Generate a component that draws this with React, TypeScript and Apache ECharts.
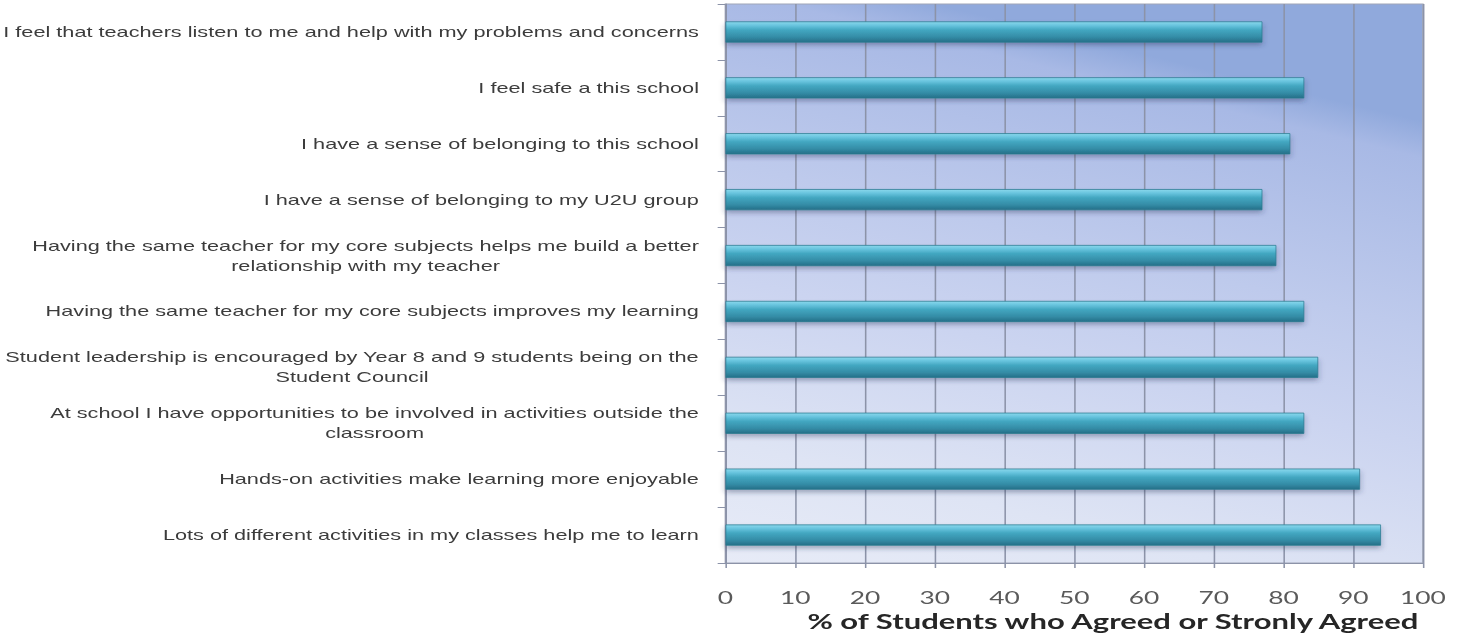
import React, { useEffect, useRef } from "react";
import * as echarts from "echarts";

// Survey statements, top to bottom
const statements: string[] = [
  "I feel that teachers listen to me and help with my problems and concerns",
  "I feel safe a this school",
  "I have a sense of belonging to this school",
  "I have a sense of belonging to my U2U group",
  "Having the same teacher for my core subjects helps me build a better\nrelationship with my teacher",
  "Having the same teacher for my core subjects improves my learning",
  "Student leadership is encouraged by Year 8 and 9 students being on the\nStudent Council",
  "At school I have opportunities to be involved in activities outside the\nclassroom",
  "Hands-on activities make learning more enjoyable",
  "Lots of different activities in my classes help me to learn",
];

// % of students who agreed or strongly agreed
const agreedPct: number[] = [77, 83, 81, 77, 79, 83, 85, 83, 91, 94];

// Value axis range
const axisMin = 0;
const axisMax = 100;
const axisStep = 10;

const axisTitle = "% of Students who Agreed or Stronly Agreed";

// The chart is laid out narrow and stretched sideways to get its wide lettering
const STRETCH = 1.55;
const PAGE_W = 1466;
const PAGE_H = 637;
const CHART_W = Math.round(PAGE_W / STRETCH);

export default function App() {
  const ref = useRef<HTMLDivElement>(null);

  useEffect(() => {
    if (!ref.current) return;
    const chart = echarts.init(ref.current, null, { renderer: "svg" });

    const plotBg = new echarts.graphic.LinearGradient(0, 1, 0.3, 0, [
      { offset: 0, color: "#e7ebf7" },
      { offset: 0.2, color: "#dee4f4" },
      { offset: 0.47, color: "#cbd4f0" },
      { offset: 0.66, color: "#becaec" },
      { offset: 0.94, color: "#a8b9e5" },
      { offset: 1, color: "#90a9dc" },
    ]);

    const barFill = new echarts.graphic.LinearGradient(0, 0, 0, 1, [
      { offset: 0, color: "#8ad8ec" },
      { offset: 0.18, color: "#68c4de" },
      { offset: 0.4, color: "#43a7c1" },
      { offset: 0.75, color: "#348ca6" },
      { offset: 1, color: "#256f88" },
    ]);

    chart.setOption({
      animation: false,
      backgroundColor: "#ffffff",
      grid: {
        left: 468,
        right: CHART_W - 918,
        top: 4,
        height: 559,
        show: true,
        backgroundColor: plotBg,
        borderColor: "#a0a6b8",
        borderWidth: 1,
        outerBoundsMode: "none",
        containLabel: false,
      },
      xAxis: {
        type: "value",
        min: axisMin,
        max: axisMax,
        interval: axisStep,
        name: axisTitle,
        nameLocation: "middle",
        nameGap: 48,
        nameTextStyle: {
          fontFamily: "Lato",
          fontWeight: "bold",
          fontSize: 20,
          color: "#262626",
          padding: [0, 0, 0, 50],
        },
        axisLine: { show: true, lineStyle: { color: "#8c93a8", width: 1 } },
        axisTick: { show: true, length: 5, lineStyle: { color: "#8c93a8" } },
        axisLabel: {
          margin: 26,
          fontFamily: "Lato",
          fontSize: 17,
          color: "#5a5a5a",
        },
        splitLine: { show: true, lineStyle: { color: "#8c93a8", width: 1 } },
      },
      yAxis: {
        type: "category",
        inverse: true,
        data: statements,
        axisLine: { show: true, lineStyle: { color: "#8c93a8", width: 1 } },
        axisTick: { show: true, length: 5, lineStyle: { color: "#8c93a8" } },
        axisLabel: {
          margin: 17,
          formatter: (v: string) =>
            v
              .split("\n")
              .map((line) => `{c|${line}}`)
              .join("\n"),
          rich: {
            c: {
              align: "center",
              fontFamily: "Liberation Sans",
              fontSize: 14,
              lineHeight: 20,
              color: "#3c3c3c",
            },
          },
        },
        splitLine: { show: false },
      },
      series: [
        {
          type: "bar",
          data: agreedPct,
          barWidth: 21,
          itemStyle: {
            color: barFill,
            borderColor: "#2b7a91",
            borderWidth: 0.6,
            shadowColor: "rgba(40, 50, 90, 0.35)",
            shadowBlur: 4,
            shadowOffsetY: 3,
          },
        },
      ],
    });

    return () => chart.dispose();
  }, []);

  return (
    <div
      ref={ref}
      style={{
        position: "absolute",
        left: 0,
        top: 0,
        width: CHART_W,
        height: PAGE_H,
        transform: `scaleX(${STRETCH})`,
        transformOrigin: "0 0",
      }}
    />
  );
}
